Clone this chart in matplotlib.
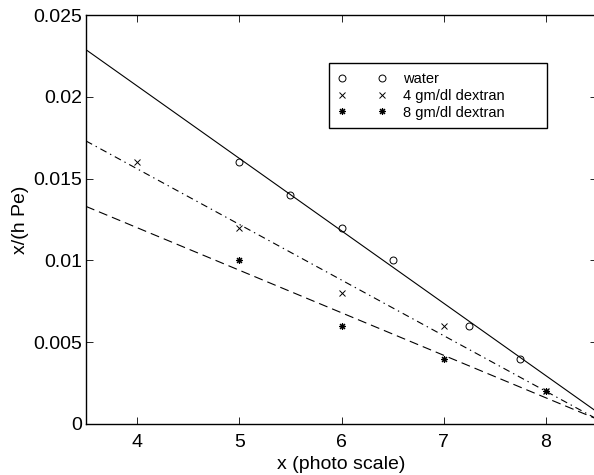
import numpy as np
import matplotlib.pyplot as plt
from matplotlib.ticker import FuncFormatter

plt.rcParams['font.family'] = ['Liberation Sans', 'DejaVu Sans']

# measured points
water_x = [5, 5.5, 6, 6.5, 7.25, 7.75]
water_y = [0.016, 0.014, 0.012, 0.010, 0.006, 0.004]
dex4_x = [4, 5, 6, 7, 8]
dex4_y = [0.016, 0.012, 0.008, 0.006, 0.002]
dex8_x = [5, 6, 7, 8]
dex8_y = [0.010, 0.006, 0.004, 0.002]

xlim = (3.5, 8.5)
ylim = (0, 0.025)

fig = plt.figure(figsize=(5.94, 4.75), dpi=100)
ax = fig.add_axes([86 / 594, 51 / 475, 511 / 594, 409 / 475])

mk = dict(linestyle='none', color='black', markerfacecolor='none')
ax.plot(water_x, water_y, marker='o', markersize=5, markeredgewidth=0.7,
        label='water', **mk)
ax.plot(dex4_x, dex4_y, marker='x', markersize=4, markeredgewidth=0.7,
        label='4 gm/dl dextran', **mk)
ax.plot(dex8_x, dex8_y, marker=(8, 2, 0), markersize=5, markeredgewidth=0.8,
        label='8 gm/dl dextran', **mk)

# least-squares fit lines (matlab-ish dash patterns)
lw = 0.8
styles = ['-', (0, (5 / lw, 2.9 / lw, 1 / lw, 2.9 / lw)), (0, (6.5 / lw, 3.6 / lw))]
xx = np.array(xlim)
for xs, ys, ls in zip([water_x, dex4_x, dex8_x], [water_y, dex4_y, dex8_y], styles):
    p = np.polyfit(xs, ys, 1)
    ax.plot(xx, np.polyval(p, xx), color='black', linestyle=ls, linewidth=lw)

ax.set_xlim(xlim)
ax.set_ylim(ylim)
ax.set_xticks([4, 5, 6, 7, 8])
ax.set_yticks([0, 0.005, 0.01, 0.015, 0.02, 0.025])
ax.yaxis.set_major_formatter(FuncFormatter(lambda v, pos: '%g' % round(v, 4)))
ax.tick_params(direction='in', top=True, right=True, length=5, width=0.6,
               labelsize=14)
ax.tick_params(axis='x', pad=7.5)
ax.tick_params(axis='y', pad=3)
for s in ax.spines.values():
    s.set_linewidth(1.0)

ax.set_xlabel('x (photo scale)', fontsize=14, labelpad=3)
ax.set_ylabel('x/(h Pe)', fontsize=14, labelpad=3)

# legend box spans x 329..547, top at y 63 (pixels)
leg = ax.legend(loc='upper left',
                bbox_to_anchor=(329 / 594, 1 - 129 / 475, 218 / 594, 66 / 475),
                bbox_transform=fig.transFigure, mode='expand', numpoints=2,
                fontsize=10.5, fancybox=False, framealpha=1, edgecolor='black',
                borderaxespad=0, handlelength=3.3, handletextpad=1.15,
                labelspacing=0.2, borderpad=0.6)
leg.get_frame().set_linewidth(1.0)

fig.savefig('out.png', dpi=100)
